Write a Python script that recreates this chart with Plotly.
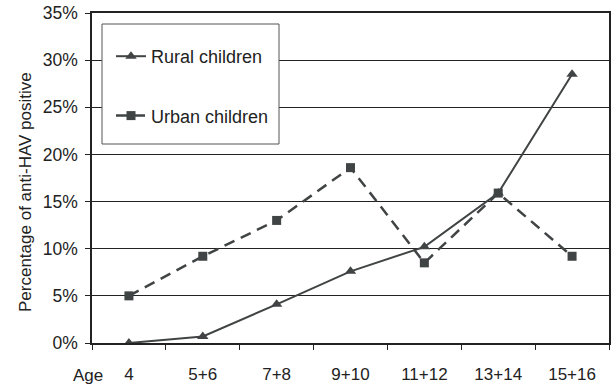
import plotly.graph_objects as go

age_groups = ["4", "5+6", "7+8", "9+10", "11+12", "13+14", "15+16"]
rural_pct = [0.0, 0.7, 4.1, 7.6, 10.2, 15.9, 28.5]
urban_pct = [5.0, 9.2, 13.0, 18.6, 8.5, 15.9, 9.2]
y_ticks = [0, 5, 10, 15, 20, 25, 30, 35]

FONT = "Liberation Sans, Arial, sans-serif"
LINE = "#404444"
TXT = "#222222"

fig = go.Figure()
fig.add_trace(go.Scatter(
    x=age_groups, y=rural_pct, name="Rural children", mode="lines+markers",
    line=dict(color=LINE, width=2),
    marker=dict(symbol="triangle-up", size=10, color=LINE),
    legendgroup="r",
))
fig.add_trace(go.Scatter(
    x=age_groups, y=urban_pct, name="Urban children", mode="lines+markers",
    line=dict(color=LINE, width=2.5, dash="11px,7px"),
    marker=dict(symbol="square", size=9, color=LINE),
    legendgroup="u",
))

W, H = 614, 384
L, R, T, B = 92, 5, 13, 41
pw, ph = W - L - R, H - T - B

def px_x(x):
    return (x - L) / pw

def px_y(y):
    return (H - B - y) / ph

fig.add_shape(type="rect", xref="paper", yref="paper",
              x0=px_x(102), x1=px_x(279), y0=px_y(144), y1=px_y(24),
              line=dict(color="#555555", width=1), fillcolor="white", layer="above")

fig.add_annotation(text="Age", xref="paper", yref="paper", x=px_x(105), y=px_y(375),
                   xanchor="right", yanchor="middle", showarrow=False,
                   font=dict(family=FONT, size=17, color=TXT))

fig.add_annotation(text="Percentage of anti-HAV positive", xref="paper", yref="paper",
                   x=px_x(25), y=px_y(192), xanchor="center", yanchor="middle",
                   textangle=-90, showarrow=False,
                   font=dict(family=FONT, size=17, color=TXT))

fig.update_layout(
    width=W, height=H,
    margin=dict(l=L, r=R, t=T, b=B, pad=0, autoexpand=False),
    paper_bgcolor="white", plot_bgcolor="white",
    font=dict(family=FONT, size=17, color=TXT),
    showlegend=True,
    legend=dict(
        x=px_x(111), y=px_y(38), xanchor="left", yanchor="top",
        bgcolor="rgba(0,0,0,0)", borderwidth=0,
        traceorder="grouped", tracegroupgap=33,
        font=dict(family=FONT, size=18, color=TXT),
        itemwidth=30,
    ),
    xaxis=dict(
        type="category", range=[-0.5, 6.5], automargin=False,
        tickson="boundaries", ticks="outside", ticklen=5, tickcolor="#222",
        showline=True, linecolor="#222", linewidth=1.5, mirror=True,
        showgrid=False, ticklabelstandoff=15,
        tickfont=dict(family=FONT, size=17, color=TXT),
    ),
    yaxis=dict(
        range=[0, 35], tickvals=y_ticks, ticktext=[f"{v}%" for v in y_ticks],
        automargin=False,
        ticks="outside", ticklen=5, tickcolor="#222",
        showline=True, linecolor="#222", linewidth=1.5, mirror=True,
        showgrid=True, gridcolor="#222", gridwidth=1, zeroline=False,
        ticklabelstandoff=4,
        tickfont=dict(family=FONT, size=17.5, color=TXT),
    ),
)

fig.write_html("out.html", config={"displayModeBar": False},
               post_script="document.body.style.margin='0px';document.body.style.padding='0px';")
